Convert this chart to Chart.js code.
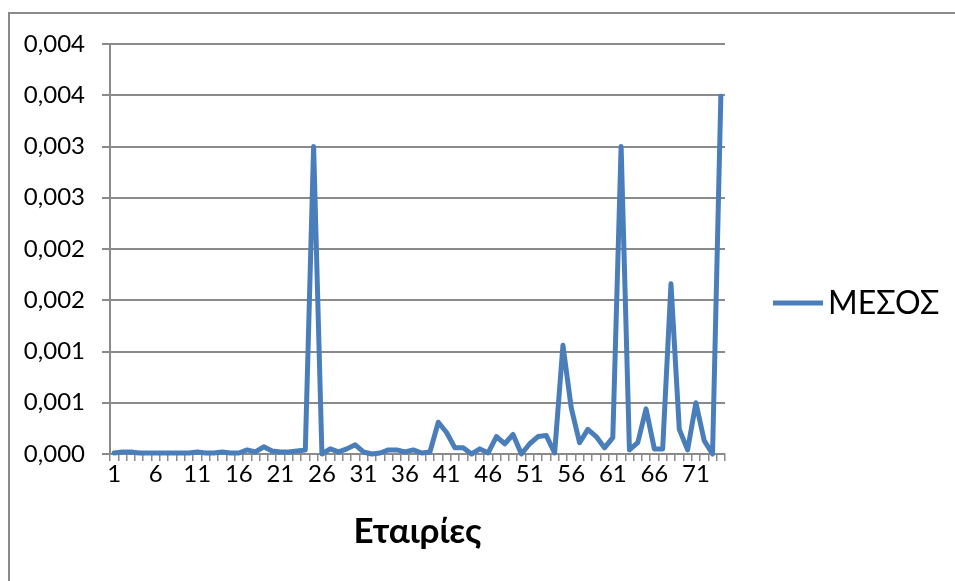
<!DOCTYPE html>
<html>
<head>
<meta charset="utf-8">
<script src="https://cdn.jsdelivr.net/npm/chart.js@4"></script>
<style>
    html, body { margin: 0; padding: 0; background: #fff; }
    #frame {
        position: absolute; left: 8px; top: 12px; width: 1000px; height: 1000px;
        border: 2px solid #8a8a8a; box-sizing: border-box;
    }
    #wrap { position: absolute; left: 0; top: 0; width: 955px; height: 581px; }
</style>
</head>
<body>
<div id="frame"></div>
<div id="wrap"><canvas id="c" width="955" height="581"></canvas></div>
<script>
// Εταιρίες 1..74
const companies = [
    '1', '2', '3', '4', '5', '6', '7', '8', '9', '10',
    '11', '12', '13', '14', '15', '16', '17', '18', '19', '20',
    '21', '22', '23', '24', '25', '26', '27', '28', '29', '30',
    '31', '32', '33', '34', '35', '36', '37', '38', '39', '40',
    '41', '42', '43', '44', '45', '46', '47', '48', '49', '50',
    '51', '52', '53', '54', '55', '56', '57', '58', '59', '60',
    '61', '62', '63', '64', '65', '66', '67', '68', '69', '70',
    '71', '72', '73', '74',
];

// ΜΕΣΟΣ
const mesos = [
    0.00001, 0.00002, 0.00002, 0.00001, 0.00001, 0.00001, 0.00001, 0.00001, 0.00001, 0.00001,
    0.00002, 0.00001, 0.00001, 0.00002, 0.00001, 0.00001, 0.00004, 0.00002, 0.00007, 0.00003,
    0.00002, 0.00002, 0.00003, 0.00004, 0.003, 0.0, 0.00005, 0.00002, 0.00005, 0.00009,
    0.00002, 0.0, 0.00001, 0.00004, 0.00004, 0.00002, 0.00004, 0.00001, 0.00002, 0.00031,
    0.00021, 0.00006, 0.00006, 0.0, 0.00005, 0.00001, 0.00017, 0.0001, 0.00019, 0.0,
    0.0001, 0.00017, 0.00018, 0.00001, 0.00106, 0.00045, 0.00011, 0.00024, 0.00017, 0.00006,
    0.00016, 0.003, 0.00004, 0.00011, 0.00044, 0.00005, 0.00005, 0.00166, 0.00024, 0.00004,
    0.0005, 0.00013, 0.0, 0.00349,
];

const yTicks = { min: 0, max: 0.004, step: 0.0005 };

const LINE = '#4a7ebb';
const GRID = '#8a8a8a';
const FONT = 'Lato, "Noto Sans", sans-serif';

// Excel-style legend on the right, drawn from the dataset itself
const sideLegend = {
    id: 'sideLegend',
    afterDraw(chart) {
        const ctx = chart.ctx;
        const ds = chart.data.datasets[0];
        const x0 = chart.chartArea.right + 48;
        const y = 303;
        ctx.save();
        ctx.strokeStyle = ds.borderColor;
        ctx.lineWidth = ds.borderWidth;
        ctx.beginPath();
        ctx.moveTo(x0, y);
        ctx.lineTo(x0 + 50, y);
        ctx.stroke();
        ctx.fillStyle = '#000';
        ctx.font = '32px ' + FONT;
        ctx.textBaseline = 'middle';
        ctx.fillText(ds.label, x0 + 55, y + 1);
        ctx.restore();
    },
};

new Chart(document.getElementById('c'), {
    type: 'line',
    data: {
        labels: companies,
        datasets: [{
            label: 'ΜΕΣΟΣ',
            data: mesos,
            borderColor: LINE,
            borderWidth: 5,
            borderJoinStyle: 'round',
            borderCapStyle: 'round',
            pointRadius: 0,
            tension: 0,
            clip: false,
        }],
    },
    options: {
        responsive: false,
        animation: false,
        layout: { padding: { left: 8, top: 44, right: 230, bottom: 26 } },
        plugins: {
            legend: { display: false },
            tooltip: { enabled: false },
        },
        scales: {
            x: {
                type: 'category',
                offset: true,
                grid: {
                    offset: true,
                    drawOnChartArea: false,
                    drawTicks: true,
                    tickLength: 7,
                    color: GRID,
                    lineWidth: 1.5,
                },
                border: { display: true, color: GRID, width: 2 },
                ticks: {
                    autoSkip: false,
                    maxRotation: 0,
                    padding: -1,
                    color: '#000',
                    font: { family: FONT, size: 24 },
                    callback: (v, i) => (i % 5 === 0 ? companies[i] : ''),
                },
                title: {
                    display: true,
                    text: 'Εταιρίες',
                    color: '#000',
                    font: { family: FONT, size: 35, weight: 'bold' },
                    padding: { top: 0, bottom: 2 },
                },
                afterFit: (s) => { s.height = 101; },
            },
            y: {
                min: yTicks.min,
                max: yTicks.max,
                grid: {
                    color: GRID,
                    lineWidth: 2,
                    drawTicks: true,
                    tickLength: 8,
                },
                border: { display: true, color: GRID, width: 2 },
                ticks: {
                    stepSize: yTicks.step,
                    padding: 17,
                    color: '#000',
                    font: { family: FONT, size: 24 },
                    callback: (v) => (Math.round(v * 1000 + 1e-9) / 1000).toFixed(3).replace('.', ','),
                },
                afterFit: (s) => { s.width = 102; },
            },
        },
    },
    plugins: [sideLegend],
});
</script>
</body>
</html>
